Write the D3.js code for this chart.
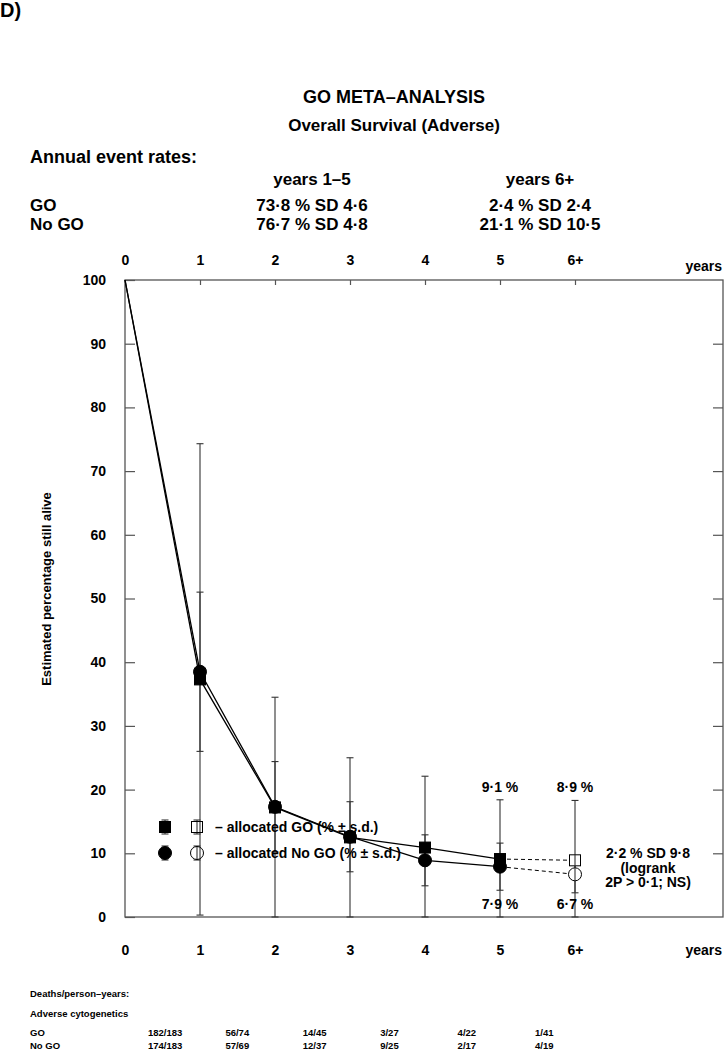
<!DOCTYPE html>
<html>
<head>
<meta charset="utf-8">
<script src="https://cdn.jsdelivr.net/npm/d3@7"></script>
<style>
  body { margin: 0; background: #fff; }
  text { font-family: "Liberation Sans", Arial, sans-serif; font-weight: bold; fill: #000; }
</style>
</head>
<body>
<script>
// survival data
var years = [0, 1, 2, 3, 4, 5, 6];
var yearLabels = ["0", "1", "2", "3", "4", "5", "6+"];
var goSurv = [100, 37.3, 17.2, 12.5, 10.9, 9.1, 8.9];
var goSD = [0, 37.0, 17.3, 12.5, 11.2, 9.3, 9.4];
var noGoSurv = [100, 38.5, 17.3, 12.6, 8.9, 7.9, 6.7];
var noGoSD = [0, 12.5, 7.1, 5.5, 4.0, 3.7, 2.9];
var yTicks = [0, 10, 20, 30, 40, 50, 60, 70, 80, 90, 100];

var rateHeads = ["years 1–5", "years 6+"];
var goRates = ["73·8 % SD 4·6", "2·4 % SD 2·4"];
var noGoRates = ["76·7 % SD 4·8", "21·1 % SD 10·5"];

var goDeaths = ["182/183", "56/74", "14/45", "3/27", "4/22", "1/41"];
var noGoDeaths = ["174/183", "57/69", "12/37", "9/25", "2/17", "4/19"];

var W = 724, H = 1049;
var svg = d3.select("body").append("svg").attr("width", W).attr("height", H);
svg.append("rect").attr("width", W).attr("height", H).attr("fill", "#fff");

var x = d3.scaleLinear().domain([0, 6]).range([125, 575]);
var y = d3.scaleLinear().domain([0, 100]).range([917, 280]);
var xRight = 723;

// headings
svg.append("text").text("D)").attr("x", 0).attr("y", 17).attr("font-size", 20);
svg.append("text").text("GO META–ANALYSIS").attr("x", 394).attr("y", 103)
   .attr("text-anchor", "middle").attr("font-size", 18);
svg.append("text").text("Overall Survival (Adverse)").attr("x", 394).attr("y", 131)
   .attr("text-anchor", "middle").attr("font-size", 17);

svg.append("text").text("Annual event rates:").attr("x", 30).attr("y", 163).attr("font-size", 18);
var rateX = d3.scaleLinear().domain([0, 1]).range([312, 540]);
svg.selectAll("text.rhead").data(rateHeads).enter().append("text")
   .attr("class", "rhead").text(function(d){ return d; })
   .attr("x", function(d,i){ return rateX(i); }).attr("y", 185)
   .attr("text-anchor", "middle").attr("font-size", 17);
svg.append("text").text("GO").attr("x", 30).attr("y", 211).attr("font-size", 17);
svg.append("text").text("No GO").attr("x", 30).attr("y", 230).attr("font-size", 17);
svg.selectAll("text.rgo").data(goRates).enter().append("text")
   .attr("class", "rgo").text(function(d){ return d; })
   .attr("x", function(d,i){ return rateX(i); }).attr("y", 211)
   .attr("text-anchor", "middle").attr("font-size", 17);
svg.selectAll("text.rno").data(noGoRates).enter().append("text")
   .attr("class", "rno").text(function(d){ return d; })
   .attr("x", function(d,i){ return rateX(i); }).attr("y", 230)
   .attr("text-anchor", "middle").attr("font-size", 17);

// frame
svg.append("rect").attr("x", x(0)).attr("y", y(100))
   .attr("width", xRight - x(0)).attr("height", y(0) - y(100))
   .attr("fill", "none").attr("stroke", "#555").attr("stroke-width", 1.3);

var fmt = function(d){ return yearLabels[d]; };

var topAxis = svg.append("g").attr("transform", "translate(0," + y(100) + ")")
   .call(d3.axisTop(x).tickValues(years).tickFormat(fmt).tickSize(-5).tickPadding(15));
var botAxis = svg.append("g").attr("transform", "translate(0," + y(0) + ")")
   .call(d3.axisBottom(x).tickValues(years).tickFormat(fmt).tickSize(0).tickPadding(28));
var leftAxis = svg.append("g").attr("transform", "translate(" + x(0) + ",0)")
   .call(d3.axisLeft(y).tickValues(yTicks).tickSize(-10).tickPadding(19));
var rightAxis = svg.append("g").attr("transform", "translate(" + xRight + ",0)")
   .call(d3.axisRight(y).tickValues(yTicks.slice(1, 10)).tickSize(-10).tickFormat(""));

[topAxis, botAxis, leftAxis, rightAxis].forEach(function(g){
  g.select(".domain").remove();
  g.selectAll("line").attr("stroke", "#555").attr("stroke-width", 1.2);
  g.selectAll("text").attr("font-size", 14).attr("font-family", null).attr("fill", "#000");
});
topAxis.selectAll(".tick").filter(function(d){ return d === 0; }).select("line").remove();

svg.append("text").text("years").attr("x", 722).attr("y", 271)
   .attr("text-anchor", "end").attr("font-size", 14);
svg.append("text").text("years").attr("x", 722).attr("y", 955)
   .attr("text-anchor", "end").attr("font-size", 14);

svg.append("text").text("Estimated percentage still alive")
   .attr("transform", "translate(51,589) rotate(-90)")
   .attr("text-anchor", "middle").attr("font-size", 13);

// error bars
function errBars(vals, sds, cls) {
  var g = svg.append("g").attr("class", cls);
  var idx = years.filter(function(d){ return d > 0; });
  idx.forEach(function(i){
    var lo = Math.max(0, vals[i] - sds[i]), hi = vals[i] + sds[i];
    g.append("line").attr("x1", x(i)).attr("x2", x(i)).attr("y1", y(lo)).attr("y2", y(hi))
     .attr("stroke", "#333").attr("stroke-width", 1.1);
    [lo, hi].forEach(function(v){
      g.append("line").attr("x1", x(i) - 3.5).attr("x2", x(i) + 3.5)
       .attr("y1", y(v)).attr("y2", y(v)).attr("stroke", "#333").attr("stroke-width", 1.1);
    });
  });
}
errBars(goSurv, goSD, "go-err");
errBars(noGoSurv, noGoSD, "nogo-err");

// curves
var line = d3.line().x(function(d){ return x(d[0]); }).y(function(d){ return y(d[1]); });
function curve(vals) {
  var pts = years.map(function(d){ return [d, vals[d]]; });
  svg.append("path").attr("d", line(pts.slice(0, 6))).attr("fill", "none")
     .attr("stroke", "#000").attr("stroke-width", 1.3);
  svg.append("path").attr("d", line(pts.slice(5))).attr("fill", "none")
     .attr("stroke", "#000").attr("stroke-width", 1).attr("stroke-dasharray", "4,3");
}
curve(goSurv);
curve(noGoSurv);

// markers
var sq = 11, rr = 6.5;
svg.selectAll("rect.go").data(years.slice(1)).enter().append("rect").attr("class", "go")
   .attr("x", function(d){ return x(d) - sq/2; }).attr("y", function(d){ return y(goSurv[d]) - sq/2; })
   .attr("width", sq).attr("height", sq)
   .attr("fill", function(d){ return d === 6 ? "#fff" : "#000"; })
   .attr("stroke", "#000").attr("stroke-width", 1);
svg.selectAll("circle.nogo").data(years.slice(1)).enter().append("circle").attr("class", "nogo")
   .attr("cx", function(d){ return x(d); }).attr("cy", function(d){ return y(noGoSurv[d]); })
   .attr("r", rr)
   .attr("fill", function(d){ return d === 6 ? "#fff" : "#000"; })
   .attr("stroke", "#000").attr("stroke-width", 1);
// error bar stays visible through the open markers
[6].forEach(function(i){
  svg.append("line").attr("x1", x(i)).attr("x2", x(i))
     .attr("y1", y(goSurv[i]) - sq/2).attr("y2", y(noGoSurv[i]) + rr)
     .attr("stroke", "#333").attr("stroke-width", 1.1);
});

// value labels
svg.selectAll("text.vgo").data([5, 6]).enter().append("text").attr("class", "vgo")
   .text(function(d){ return String(goSurv[d]).replace(".", "·") + " %"; })
   .attr("x", function(d){ return x(d); }).attr("y", function(d){ return y(goSurv[d] + goSD[d]) - 8; })
   .attr("text-anchor", "middle").attr("font-size", 14);
svg.selectAll("text.vno").data([5, 6]).enter().append("text").attr("class", "vno")
   .text(function(d){ return String(noGoSurv[d]).replace(".", "·") + " %"; })
   .attr("x", function(d){ return x(d); }).attr("y", y(0) - 8)
   .attr("text-anchor", "middle").attr("font-size", 14);

var note = ["2·2 % SD 9·8", "(logrank", "2P > 0·1; NS)"];
svg.selectAll("text.note").data(note).enter().append("text").attr("class", "note")
   .text(function(d){ return d; })
   .attr("x", 648).attr("y", function(d,i){ return 858 + i*14.5; })
   .attr("text-anchor", "middle").attr("font-size", 14);

// legend
var legRows = [{label: "– allocated GO (% ± s.d.)", shape: "sq", yy: 827},
               {label: "– allocated No GO (% ± s.d.)", shape: "ci", yy: 853}];
legRows.forEach(function(r){
  [165, 197].forEach(function(cx, k){
    svg.append("line").attr("x1", cx).attr("x2", cx).attr("y1", r.yy - 7).attr("y2", r.yy + 7)
       .attr("stroke", "#333").attr("stroke-width", 1.1);
    [r.yy - 7, r.yy + 7].forEach(function(v){
      svg.append("line").attr("x1", cx - 3.5).attr("x2", cx + 3.5).attr("y1", v).attr("y2", v)
         .attr("stroke", "#333").attr("stroke-width", 1.1);
    });
    var fill = k === 0 ? "#000" : "none";
    if (r.shape === "sq") {
      svg.append("rect").attr("x", cx - sq/2).attr("y", r.yy - sq/2).attr("width", sq).attr("height", sq)
         .attr("fill", fill).attr("stroke", "#000");
    } else {
      svg.append("circle").attr("cx", cx).attr("cy", r.yy).attr("r", rr)
         .attr("fill", fill).attr("stroke", "#000");
    }
  });
  svg.append("text").text(r.label).attr("x", 215).attr("y", r.yy + 5).attr("font-size", 14);
});

// deaths / person-years table
var colX = d3.scaleLinear().domain([0, 5]).range([148, 535]);
svg.append("text").text("Deaths/person–years:").attr("x", 30).attr("y", 996.5).attr("font-size", 9.5);
svg.append("text").text("Adverse cytogenetics").attr("x", 30).attr("y", 1016.5).attr("font-size", 9.5);
svg.append("text").text("GO").attr("x", 30).attr("y", 1035.5).attr("font-size", 9.5);
svg.append("text").text("No GO").attr("x", 30).attr("y", 1048.5).attr("font-size", 9.5);
svg.selectAll("text.dgo").data(goDeaths).enter().append("text").attr("class", "dgo")
   .text(function(d){ return d; }).attr("x", function(d,i){ return colX(i); })
   .attr("y", 1035.5).attr("font-size", 9.5);
svg.selectAll("text.dno").data(noGoDeaths).enter().append("text").attr("class", "dno")
   .text(function(d){ return d; }).attr("x", function(d,i){ return colX(i); })
   .attr("y", 1048.5).attr("font-size", 9.5);
</script>
</body>
</html>
